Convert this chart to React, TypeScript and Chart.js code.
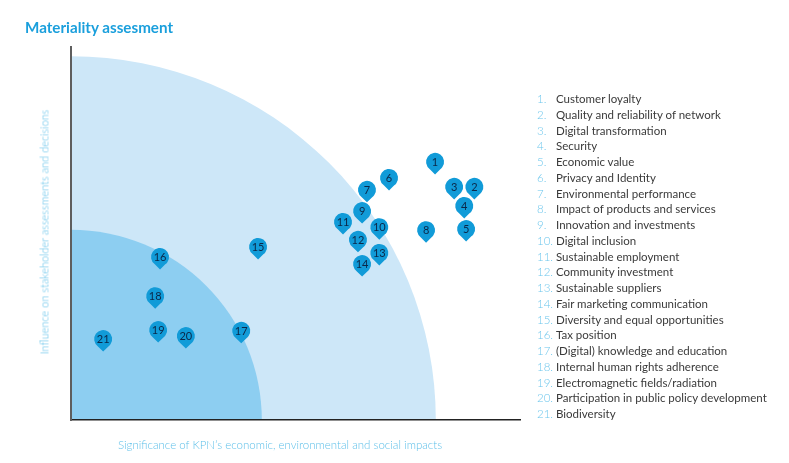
import React, { useEffect, useRef } from "react";
import { Chart, registerables } from "chart.js";

Chart.register(...registerables);

const ids: number[] = [1, 2, 3, 4, 5, 6, 7, 8, 9, 10, 11, 12, 13, 14, 15, 16, 17, 18, 19, 20, 21];
const significance: number[] = [97.3, 107.8, 102.4, 105.1, 105.6, 85.0, 79.1, 94.9, 77.8, 82.4, 72.7, 76.7, 82.4, 77.8, 50.0, 23.8, 45.5, 22.5, 23.3, 30.7, 8.6];
const influence: number[] = [69.2, 62.5, 62.5, 57.4, 51.2, 64.9, 61.7, 50.9, 56.0, 51.7, 53.1, 48.3, 44.8, 41.8, 46.4, 43.7, 23.9, 33.2, 24.1, 22.5, 21.7];
const topics: string[] = [
  "Customer loyalty",
  "Quality and reliability of network",
  "Digital transformation",
  "Security",
  "Economic value",
  "Privacy and Identity",
  "Environmental performance",
  "Impact of products and services",
  "Innovation and investments",
  "Digital inclusion",
  "Sustainable employment",
  "Community investment",
  "Sustainable suppliers",
  "Fair marketing communication",
  "Diversity and equal opportunities",
  "Tax position",
  "(Digital) knowledge and education",
  "Internal human rights adherence",
  "Electromagnetic fields/radiation",
  "Participation in public policy development",
  "Biodiversity",
];
const zoneRadii: number[] = [97.5, 51];
const zoneColors: string[] = ["#cde7f8", "#8dcef1"];

const TITLE = "Materiality assesment";
const X_TITLE = "Significance of KPN\u2019s economic, environmental and social impacts";
const Y_TITLE = "Influence on stakeholder assessments and decisions";

const FONT = "Lato, 'Open Sans', sans-serif";

const zonesPlugin = {
  id: "zones",
  beforeDraw(chart: any) {
    const { ctx, scales } = chart;
    const xs = scales.x;
    const ys = scales.y;
    const cx = xs.getPixelForValue(0);
    const cy = ys.getPixelForValue(0);
    ctx.save();
    zoneRadii.forEach((r, i) => {
      const rx = xs.getPixelForValue(r) - cx;
      const ry = cy - ys.getPixelForValue(r);
      ctx.beginPath();
      ctx.moveTo(cx, cy);
      ctx.ellipse(cx, cy, rx, ry, 0, -Math.PI / 2, 0, false);
      ctx.closePath();
      ctx.fillStyle = zoneColors[i];
      ctx.fill();
    });
    ctx.restore();
  },
};

const pinsPlugin = {
  id: "pins",
  afterDatasetsDraw(chart: any) {
    const { ctx } = chart;
    const meta = chart.getDatasetMeta(0);
    ctx.save();
    meta.data.forEach((el: any, i: number) => {
      const x = el.x;
      const y = el.y;
      const r = 9;
      const th = 0.62;
      ctx.beginPath();
      ctx.arc(x, y, r, Math.PI / 2 + th, Math.PI / 2 - th + Math.PI * 2, false);
      ctx.lineTo(x, y + 12.5);
      ctx.closePath();
      ctx.fillStyle = "#119bd8";
      ctx.fill();
      ctx.fillStyle = "#0b2748";
      ctx.font = "11px " + FONT;
      ctx.textAlign = "center";
      ctx.textBaseline = "middle";
      ctx.fillText(String(ids[i]), x, y + 0.5);
    });
    ctx.restore();
  },
};

export default function App() {
  const canvasRef = useRef<HTMLCanvasElement | null>(null);

  useEffect(() => {
    const canvas = canvasRef.current;
    if (!canvas) return;
    const chart = new Chart(canvas, {
      type: "scatter",
      data: {
        datasets: [
          {
            label: "Topics",
            data: ids.map((id, i) => ({ x: significance[i], y: influence[i] })),
            pointRadius: 0,
            pointHoverRadius: 0,
          },
        ],
      },
      options: {
        responsive: false,
        animation: false,
        devicePixelRatio: 1,
        layout: { padding: { left: 71, top: 47, right: 269, bottom: 43 } },
        plugins: {
          legend: { display: false },
          tooltip: { enabled: false },
          title: { display: false },
        },
        scales: {
          x: {
            type: "linear",
            min: 0,
            max: 120,
            grid: { display: false, drawTicks: false },
            ticks: { display: false },
            border: { display: true, color: "#222222", width: 1.5 },
          },
          y: {
            type: "linear",
            min: 0,
            max: 100,
            grid: { display: false, drawTicks: false },
            ticks: { display: false },
            border: { display: true, color: "#5e5e5e", width: 2 },
          },
        },
      },
      plugins: [zonesPlugin, pinsPlugin],
    });
    return () => chart.destroy();
  }, []);

  return (
    <div
      style={{
        position: "fixed",
        left: 0,
        top: 0,
        width: 789,
        height: 463,
        background: "#ffffff",
        fontFamily: FONT,
        overflow: "hidden",
      }}
    >
      <canvas ref={canvasRef} width={789} height={463} style={{ position: "absolute", left: 0, top: 0 }} />
      <div
        style={{
          position: "absolute",
          left: 25,
          top: 18,
          fontSize: 15.2,
          fontWeight: 700,
          color: "#1a9fdc",
          lineHeight: "19px",
          whiteSpace: "nowrap",
        }}
      >
        {TITLE}
      </div>
      <div
        style={{
          position: "absolute",
          left: 44,
          top: 232,
          transform: "translate(-50%, -50%) rotate(-90deg)",
          fontSize: 11,
          color: "#5fc0e9",
          whiteSpace: "nowrap",
          fontWeight: 300,
        }}
      >
        {Y_TITLE}
      </div>
      <div
        style={{
          position: "absolute",
          left: 280,
          top: 444,
          transform: "translate(-50%, -50%)",
          fontSize: 11.5,
          color: "#5fc0e9",
          whiteSpace: "nowrap",
          fontWeight: 300,
        }}
      >
        {X_TITLE}
      </div>
      <div style={{ position: "absolute", left: 537, top: 91.1, fontSize: 11.5, lineHeight: "15.75px" }}>
        {topics.map((t, i) => (
          <div key={i} style={{ position: "relative", height: 15.75, whiteSpace: "nowrap" }}>
            <span style={{ position: "absolute", left: 0, color: "#6cc6ec", fontWeight: 300 }}>{ids[i]}.</span>
            <span style={{ position: "absolute", left: 19, color: "#3a3a3a" }}>{t}</span>
          </div>
        ))}
      </div>
    </div>
  );
}
